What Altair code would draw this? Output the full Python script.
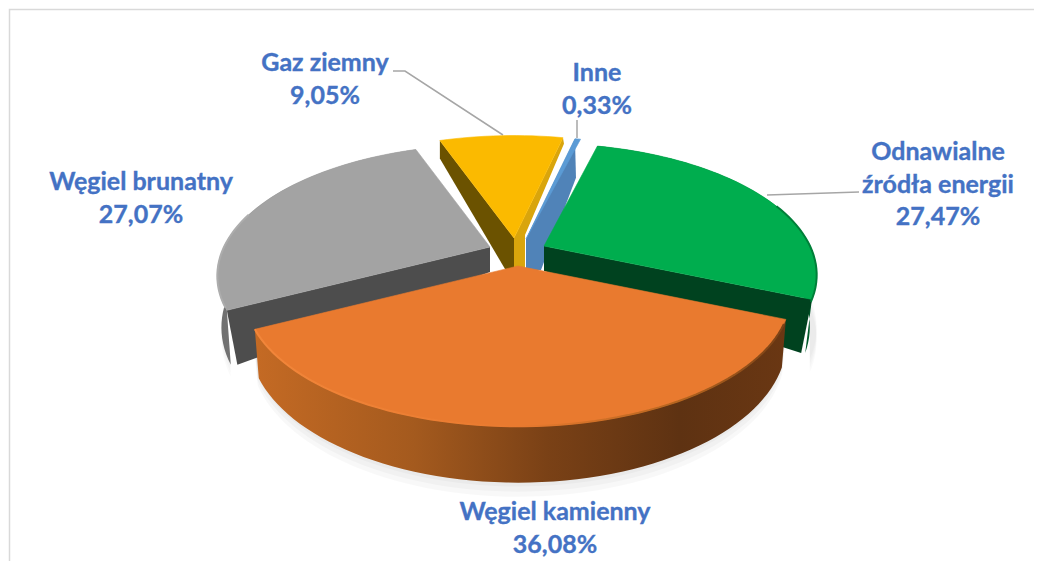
import math
import altair as alt
import pandas as pd

# ---- chart values ----
names = ["Węgiel kamienny", "Węgiel brunatny", "Gaz ziemny", "Inne", "Odnawialne źródła energii"]
values = [36.08, 27.07, 9.05, 0.33, 27.47]
value_text = ["36,08%", "27,07%", "9,05%", "0,33%", "27,47%"]
label_lines = [["Węgiel kamienny"], ["Węgiel brunatny"], ["Gaz ziemny"], ["Inne"], ["Odnawialne", "źródła energii"]]

# ---- layout ----
label_x = [555, 141, 325, 597, 938]
label_y = [512, 182, 63, 73, 152]
line_step = 32.5
apex_x = [518, 490, 514, 526, 544]
apex_y = [266, 247, 238, 239, 246]
start_angle = 113.0
RX, RY, K = 266.0, 125.0, 0.22
DEPTH = 45.0
W, H = 1026, 553
blue = "#4472C4"
grey_line = "#A6A6A6"

sx = alt.Scale(domain=[8, 8 + W], nice=False, zero=False)
sy = alt.Scale(domain=[8 + H, 8], nice=False, zero=False)


def point(t, i):
    u, v = math.sin(math.radians(t)), math.cos(math.radians(t))
    s = 1 / (1 + K * v)
    return apex_x[i] + RX * u * s, apex_y[i] - RY * v * s, s


def arc(t1, t2, i):
    n = max(2, int(abs(t2 - t1) / 2))
    return [point(t1 + (t2 - t1) * j / n, i) for j in range(n + 1)]


def poly(pts, fill=None, fill_opacity=None, closed=True, stroke=None, width=0.6):
    df = pd.DataFrame({"x": [p[0] for p in pts], "y": [p[1] for p in pts], "o": list(range(len(pts)))})
    kw = {}
    if closed:
        kw["interpolate"] = "linear-closed"
        kw["fill"] = fill
        if fill_opacity is not None:
            kw["fillOpacity"] = fill_opacity
    if stroke is not None:
        kw["stroke"] = stroke
        kw["strokeWidth"] = width
    else:
        kw["strokeOpacity"] = 0
    return alt.Chart(df).mark_line(clip=True, **kw).encode(
        x=alt.X("x:Q", scale=sx, axis=None),
        y=alt.Y("y:Q", scale=sy, axis=None),
        order=alt.Order("o:Q"),
    )


def grad(stops, x1=0, x2=1, y1=0, y2=0):
    return alt.Gradient(
        gradient="linear", x1=x1, x2=x2, y1=y1, y2=y2,
        stops=[alt.GradientStop(offset=o, color=c) for o, c in stops],
    )


def rim(i, t1, t2, fill, bx=0.97, extra=0.0, dy=0.0, **kw):
    top = arc(t1, t2, i)
    low = [(apex_x[i] + bx * (x - apex_x[i]), y + (DEPTH + extra) * s + dy) for x, y, s in top]
    return poly([p[:2] for p in top] + low[::-1], fill, **kw)


def wall(i, t, fill, d_apex=25.0, bx=0.97, extra=0.0):
    x, y, s = point(t, i)
    a = (apex_x[i], apex_y[i])
    pts = [a, (x, y), (apex_x[i] + bx * (x - apex_x[i]), y + (DEPTH + extra) * s), (a[0], a[1] + d_apex)]
    return poly(pts, fill)


def top(i, t1, t2, fill):
    return poly([(apex_x[i], apex_y[i])] + [p[:2] for p in arc(t1, t2, i)], fill, stroke=fill)


# slice angles from the values
angles = []
a0 = start_angle
for v in values:
    angles.append((a0, a0 + v * 3.6))
    a0 += v * 3.6
(o1, o2), (g1, g2), (z1, z2), (b1, b2), (e1, e2) = angles
e1, e2 = e1 - 360, e2 - 360
b1, b2 = b1 - 360, b2 - 360

layers = []
# frame
layers.append(poly([(9.5, 8 + H), (9.5, 9.5), (8 + W, 9.5)], closed=False, stroke="#D9D9D9", width=1.5))

# soft shadow below the pie
for d in (5, 9, 13, 17):
    layers.append(rim(0, o1 - 2, o2 + 2, "#000000", bx=0.98, extra=d - 7, dy=0, fill_opacity=0.028))
    layers.append(rim(1, g1, 285, "#000000", bx=0.985, extra=d - 2, fill_opacity=0.02))
    layers.append(rim(4, 70, e2 + 2, "#000000", bx=1.0, extra=d, fill_opacity=0.02))

# leader lines
layers.append(poly([(393, 71), (405, 71), (503, 135)], closed=False, stroke=grey_line, width=1.5))
layers.append(poly([(577, 120), (577, 138)], closed=False, stroke=grey_line, width=1.5))
layers.append(poly([(767, 195), (859, 192)], closed=False, stroke=grey_line, width=1.5))

# Inne
bx_, by_, _ = point(b1, 3)
layers.append(poly([(bx_, by_), (bx_ + 1, by_ + 39), (541, 270), (526, 270), (526, 239)], "#5083B8"))
layers.append(top(3, b1, b2 + 0.3, "#5B9BD5"))

# Gaz ziemny
zx, zy, _ = point(z1, 2)
layers.append(poly([(514, 238), (zx, zy), (zx, zy + 18), (505, 269), (514, 269)], "#6B5200"))
rx_, ry_, _ = point(z2, 2)
layers.append(poly([(rx_, ry_), (rx_ + 1, ry_ + 6), (525, 235), (525, 268), (514, 268), (514, 238)], "#D9A50C"))
layers.append(top(2, z1, z2, "#FBBA00"))

# Odnawialne
layers.append(rim(4, e1, e2, "#005A2A", bx=0.975, extra=4))
layers.append(wall(4, e2, "#00421F", bx=0.96, extra=4))
layers.append(top(4, e1, e2, "#00AD4E"))
layers.append(poly([point(t, 4)[:2] for t in (70 + j * 2 for j in range(23))], closed=False, stroke="#007F39", width=2))

# Węgiel brunatny
layers.append(rim(1, g1, g2, grad([(0, "#6F6F6F"), (1, "#A0A0A0")]), bx=0.985, extra=4))
layers.append(wall(1, g1, "#4D4D4D", bx=0.96, extra=4))
layers.append(top(1, g1, g2, "#A3A3A3"))
layers.append(poly([point(t, 1)[:2] for t in (g1 + 1 + j * 2 for j in range(22))], closed=False, stroke="#ADADAD", width=2))

# Węgiel kamienny
layers.append(rim(0, o1, o2, grad([(0, "#6A3713"), (0.2, "#5E3212"), (0.45, "#7A4116"), (0.7, "#A45A1E"), (1, "#C46A24")], x1=1, x2=0), bx=0.985, extra=-1))
layers.append(top(0, o1, o2, "#E97A2F"))
layers.append(poly([point(t, 0)[:2] for t in (o2 - j * 2 for j in range(65))], closed=False,
                   stroke=grad([(0, "#F2863A"), (0.5, "#E97A2F"), (0.8, "#B5651F"), (1, "#7C4216")]), width=2))

# labels
rows = []
for i, lines in enumerate(label_lines):
    all_lines = lines + [value_text[i]]
    for j, txt in enumerate(all_lines):
        rows.append({"x": label_x[i], "y": label_y[i] + j * line_step, "t": txt})
labels = alt.Chart(pd.DataFrame(rows)).mark_text(
    font="Lato", fontWeight="bold", fontSize=25, color=blue, align="center", baseline="middle",
    stroke=blue, strokeWidth=0.35,
).encode(
    x=alt.X("x:Q", scale=sx, axis=None),
    y=alt.Y("y:Q", scale=sy, axis=None),
    text="t:N",
)
layers.append(labels)

chart = alt.layer(*layers).properties(
    width=W, height=H, padding=0,
    autosize=alt.AutoSizeParams(type="none"),
    background="#FFFFFF",
).configure_view(stroke=None)

chart.save("out.html", embed_options={"renderer": "svg", "actions": False})
